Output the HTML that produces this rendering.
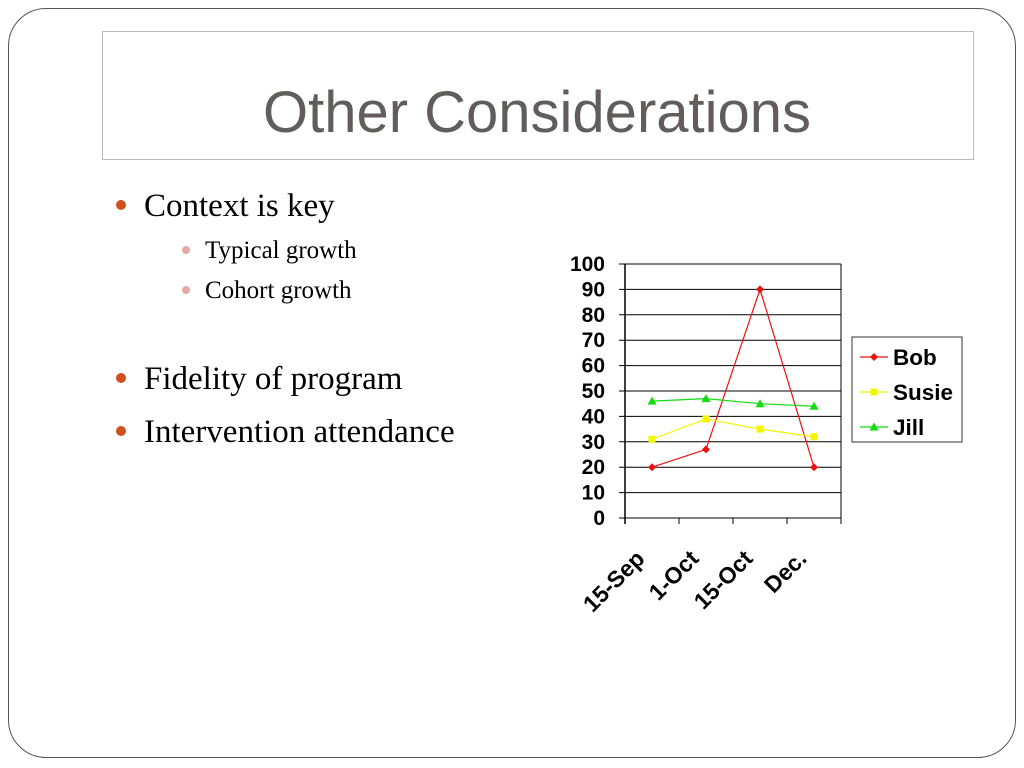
<!DOCTYPE html>
<html><head><meta charset="utf-8"><style>
body{margin:0;width:1024px;height:768px;background:#fff;position:relative;overflow:hidden;font-family:"Liberation Serif",serif}
.frame{position:absolute;left:8px;top:8px;width:1006px;height:748px;border:1.5px solid #555;border-radius:38px}
.titlebox{position:absolute;left:102px;top:31px;width:870px;height:127px;border:1px solid #bbb}
.title{position:absolute;left:102px;top:78px;width:870px;text-align:center;font-family:"Liberation Sans",sans-serif;font-size:58px;color:#625c5c;line-height:70px}
.b{position:absolute;font-size:33px;color:#000;white-space:nowrap;line-height:36px}
.b:before{content:"";position:absolute;left:-28px;top:12px;width:10px;height:10px;border-radius:50%;background:#d0501f}
.s{position:absolute;font-size:25px;color:#000;white-space:nowrap;line-height:28px}
.s:before{content:"";position:absolute;left:-23px;top:9px;width:8px;height:8px;border-radius:50%;background:#e4a9a4}
</style></head><body>
<div class="frame"></div>
<div class="titlebox"></div>
<div class="title">Other Considerations</div>
<div class="b" style="left:144px;top:188px">Context is key</div>
<div class="s" style="left:205px;top:237px">Typical growth</div>
<div class="s" style="left:205px;top:277px">Cohort growth</div>
<div class="b" style="left:144px;top:361px">Fidelity of program</div>
<div class="b" style="left:144px;top:414px">Intervention attendance</div>
<svg id="chart" width="1024" height="768" style="position:absolute;left:0;top:0"></svg>
<script>
const categories=["15-Sep","1-Oct","15-Oct","Dec."];
const bob=[20,27,90,20];
const susie=[31,39,35,32];
const jill=[46,47,45,44];
const yTicks=[0,10,20,30,40,50,60,70,80,90,100];
const svg=document.getElementById('chart');
const NS='http://www.w3.org/2000/svg';
const x0=625,x1=841,y0=518,y1=264;
const bw=(x1-x0)/categories.length;
const xs=i=>x0+bw*(i+0.5);
const ys=v=>y0-(v/100)*(y0-y1);
function el(t,a,p){const e=document.createElementNS(NS,t);for(const k in a)e.setAttribute(k,a[k]);(p||svg).appendChild(e);return e;}
yTicks.forEach(v=>{
 const g=el('line',{x1:x0-6,x2:x1,y1:ys(v),y2:ys(v),stroke:'#000','stroke-width':1});
 
 
 const t=el('text',{x:605,y:ys(v)+7,'text-anchor':'end','font-family':'Liberation Sans, sans-serif','font-size':21,'font-weight':'bold'});
 t.textContent=v;
 
 
});
el('line',{x1:x0,x2:x0,y1:y1,y2:y0+6,stroke:'#000','stroke-width':1.5});
el('line',{x1:x1,x2:x1,y1:y1,y2:y0+6,stroke:'#000','stroke-width':1});
for(let i=1;i<categories.length;i++)el('line',{x1:x0+bw*i,x2:x0+bw*i,y1:y0,y2:y0+6,stroke:'#000'});
categories.forEach((c,i)=>{
 const cx=xs(i)-6,cy=560;
 const t=el('text',{x:cx,y:cy,'text-anchor':'end','font-family':'Liberation Sans, sans-serif','font-size':23,'font-weight':'bold',transform:`rotate(-45 ${cx} ${cy})`});
 t.textContent=c;
 
 
});
function marker(type,x,y,col,p){
 if(type==='d')return el('polygon',{points:`${x},${y-4} ${x+4},${y} ${x},${y+4} ${x-4},${y}`,fill:col},p);
 if(type==='s')return el('rect',{x:x-3.5,y:y-3.5,width:7,height:7,fill:col},p);
 return el('polygon',{points:`${x},${y-4.5} ${x+4.5},${y+3.5} ${x-4.5},${y+3.5}`,fill:col},p);
}
const series=[["Bob",bob,'#ee1111','d'],["Susie",susie,'#f5f500','s'],["Jill",jill,'#11dd11','t']];
series.forEach(([n,d,col,m])=>{
 const g=el('g',{});
 
 
 el('polyline',{points:d.map((v,i)=>xs(i)+','+ys(v)).join(' '),fill:'none',stroke:col,'stroke-width':1.2},g);
 d.forEach((v,i)=>marker(m,xs(i),ys(v),col,g));
});
const lg=el('g',{});


el('rect',{x:852,y:337,width:110,height:105,fill:'#fff',stroke:'#333','stroke-width':1},lg);
series.forEach(([n,d,col,m],i)=>{
 const y=357+i*35;
 el('line',{x1:860,x2:888,y1:y,y2:y,stroke:col,'stroke-width':1.2},lg);
 marker(m,874,y,col,lg);
 const t=el('text',{x:893,y:y+8,'font-family':'Liberation Sans, sans-serif','font-size':22.5,'font-weight':'bold'},lg);
 t.textContent=n;
 
 
});
</script>
</body></html>
